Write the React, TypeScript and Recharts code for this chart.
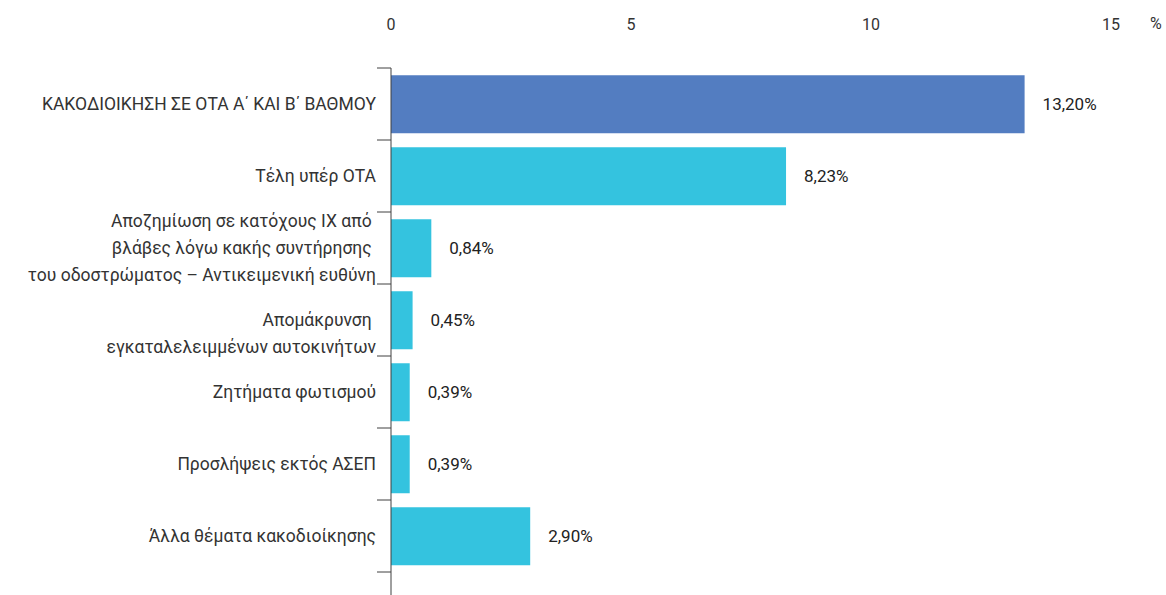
import { BarChart, Bar, XAxis, YAxis, Cell, LabelList } from 'recharts'

const categories = [
  'ΚΑΚΟΔΙΟΙΚΗΣΗ ΣΕ ΟΤΑ Α΄ ΚΑΙ Β΄ ΒΑΘΜΟΥ',
  'Τέλη υπέρ ΟΤΑ',
  'Αποζημίωση σε κατόχους ΙΧ από \nβλάβες λόγω κακής συντήρησης \nτου οδοστρώματος – Αντικειμενική ευθύνη',
  '\nΑπομάκρυνση \nεγκαταλελειμμένων αυτοκινήτων',
  'Ζητήματα φωτισμού',
  'Προσλήψεις εκτός ΑΣΕΠ',
  'Άλλα θέματα κακοδιοίκησης',
]
const values = [13.2, 8.23, 0.84, 0.45, 0.39, 0.39, 2.9]
const xTicks = [0, 5, 10, 15]

const data = categories.map((name, i) => ({ name, value: values[i] }))

const FONT = 'Roboto, "DejaVu Sans", sans-serif'
const W = 1166
const H = 595
const TOP = 68
const PAD_BOTTOM = 23
const band = (H - TOP - PAD_BOTTOM) / categories.length

const fmt = (v: number) => v.toFixed(2).replace('.', ',') + '%'

function CategoryTick(props: any) {
  const { x, y, payload, index } = props
  const lines = String(payload.value).split('\n')
  const lh = 27
  const start = y - ((lines.length - 1) * lh) / 2
  return (
    <g>
      <line x1={x} x2={x + 14} y1={y - band / 2} y2={y - band / 2} stroke="#404040" />
      {index === categories.length - 1 && (
        <line x1={x} x2={x + 14} y1={y + band / 2} y2={y + band / 2} stroke="#404040" />
      )}
      <text textAnchor="end" fill="#333" fontSize={17.5} fontFamily={FONT} style={{ whiteSpace: 'pre' }}>
        {lines.map((l, i) => (
          <tspan key={i} x={x - 1} y={start + i * lh} dy="0.35em">
            {l}
          </tspan>
        ))}
      </text>
    </g>
  )
}

function TopTick(props: any) {
  const { x, payload } = props
  return (
    <text x={x} y={24} dy="0.35em" textAnchor="middle" fill="#333" fontSize={16} fontFamily={FONT}>
      {payload.value}
    </text>
  )
}

export default function App() {
  return (
    <div style={{ position: 'absolute', left: 0, top: 0, width: W, height: H, background: '#fff' }}>
      <BarChart
        width={W}
        height={H}
        data={data}
        layout="vertical"
        barCategoryGap="10%"
        margin={{ top: 0, right: 55, bottom: 0, left: 0 }}
      >
        <XAxis
          type="number"
          orientation="top"
          domain={[0, 15]}
          ticks={xTicks}
          axisLine={false}
          tickLine={false}
          height={TOP}
          tick={<TopTick />}
          interval={0}
        />
        <YAxis
          type="category"
          dataKey="name"
          width={391}
          axisLine={{ stroke: '#404040' }}
          tickLine={false}
          tickSize={14}
          tickMargin={0}
          padding={{ top: 0, bottom: PAD_BOTTOM }}
          tick={<CategoryTick />}
          interval={0}
        />
        <Bar dataKey="value" isAnimationActive={false}>
          {data.map((d, i) => (
            <Cell key={d.name} fill={i === 0 ? '#537dc1' : '#34c3df'} />
          ))}
          <LabelList
            dataKey="value"
            position="right"
            offset={18}
            formatter={(v: any) => fmt(Number(v))}
            style={{ fill: '#222', fontSize: 17, fontWeight: 400, fontFamily: FONT }}
          />
        </Bar>
      </BarChart>
      <div
        style={{
          position: 'absolute',
          left: 1150,
          top: 14,
          fontFamily: FONT,
          fontSize: 16,
          color: '#333',
        }}
      >
        %
      </div>
    </div>
  )
}
